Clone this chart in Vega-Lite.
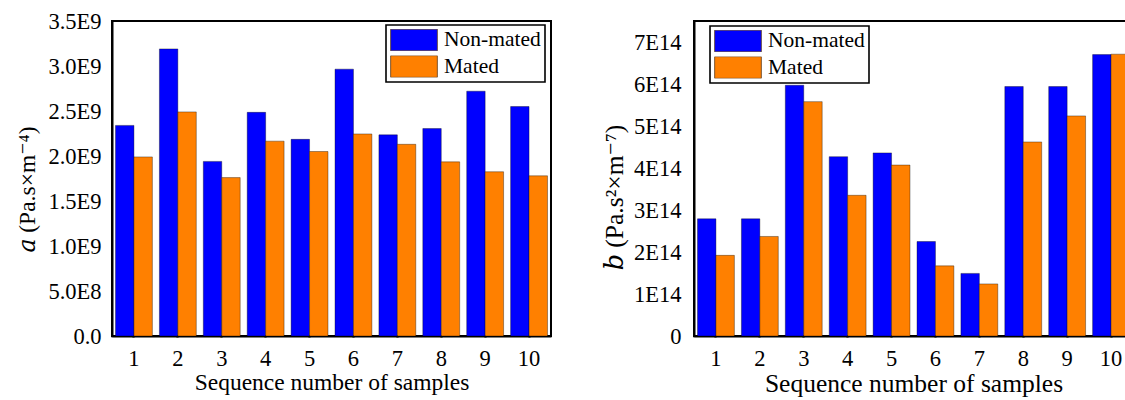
{
  "$schema": "https://vega.github.io/schema/vega-lite/v6.json",
  "background": "white",
  "padding": {"left": 14, "top": 9, "right": 0, "bottom": 0},
  "config": {
    "font": "Liberation Serif",
    "view": {"stroke": "black", "strokeWidth": 2},
    "axis": {
      "grid": false,
      "ticks": true,
      "zindex": 2,
      "domainColor": "black",
      "domainWidth": 2,
      "tickColor": "black",
      "tickOpacity": 1,
      "tickWidth": 2.2,
      "tickSize": 1,
      "labelColor": "black",
      "titleColor": "black",
      "labelFont": "Liberation Serif",
      "titleFont": "Liberation Serif, DejaVu Serif, serif",
      "titleFontWeight": "normal",
      "labelFontSize": 22.5,
      "titleFontSize": 23.5
    },
    "legend": {
      "title": null,
      "orient": "none",
      "symbolType": "M-1,-0.465H1V0.465H-1Z",
      "symbolSize": 2181,
      "symbolStrokeColor": "#5a3a1a",
      "symbolStrokeWidth": 0.8,
      "symbolOpacity": 1,
      "clipHeight": 22,
      "labelFont": "Liberation Serif",
      "labelFontSize": 21.5,
      "labelColor": "black",
      "labelOffset": 6,
      "rowPadding": 4.5,
      "padding": 4,
      "strokeColor": "black",
      "strokeWidth": 1.6,
      "fillColor": "white"
    }
  },
  "datasets": {
    "samples": [
      {"sample": 1, "group": "Non-mated", "a": 2340000000, "b": 279000000000000},
      {"sample": 1, "group": "Mated", "a": 1990000000, "b": 192000000000000},
      {"sample": 2, "group": "Non-mated", "a": 3190000000, "b": 279000000000000},
      {"sample": 2, "group": "Mated", "a": 2490000000, "b": 237000000000000},
      {"sample": 3, "group": "Non-mated", "a": 1940000000, "b": 597000000000000},
      {"sample": 3, "group": "Mated", "a": 1760000000, "b": 558000000000000},
      {"sample": 4, "group": "Non-mated", "a": 2485000000, "b": 427000000000000},
      {"sample": 4, "group": "Mated", "a": 2165000000, "b": 335000000000000},
      {"sample": 5, "group": "Non-mated", "a": 2185000000, "b": 436000000000000},
      {"sample": 5, "group": "Mated", "a": 2050000000, "b": 407000000000000},
      {"sample": 6, "group": "Non-mated", "a": 2965000000, "b": 225000000000000},
      {"sample": 6, "group": "Mated", "a": 2245000000, "b": 167000000000000},
      {"sample": 7, "group": "Non-mated", "a": 2235000000, "b": 149000000000000},
      {"sample": 7, "group": "Mated", "a": 2130000000, "b": 124000000000000},
      {"sample": 8, "group": "Non-mated", "a": 2305000000, "b": 594000000000000},
      {"sample": 8, "group": "Mated", "a": 1935000000, "b": 462000000000000},
      {"sample": 9, "group": "Non-mated", "a": 2720000000, "b": 594000000000000},
      {"sample": 9, "group": "Mated", "a": 1825000000, "b": 524000000000000},
      {"sample": 10, "group": "Non-mated", "a": 2550000000, "b": 670000000000000},
      {"sample": 10, "group": "Mated", "a": 1780000000, "b": 671000000000000}
    ]
  },
  "bounds": "flush",
  "spacing": 143,
  "resolve": {
    "scale": {"x": "independent", "y": "independent", "color": "independent", "xOffset": "independent"},
    "legend": {"color": "independent"}
  },
  "hconcat": [
    {
      "width": 439,
      "height": 315,
      "data": {"name": "samples"},
      "mark": {"type": "bar", "stroke": "black", "strokeOpacity": 0.45, "strokeWidth": 0.8},
      "encoding": {
        "x": {
          "field": "sample",
          "type": "ordinal",
          "scale": {"paddingInner": 0.16, "paddingOuter": 0.08},
          "axis": {
            "title": "Sequence number of samples",
            "labelAngle": 0,
            "labelPadding": 10,
            "titlePadding": 1,
            "encode": {"ticks": {"update": {"y2": {"value": -9}}}}
          }
        },
        "xOffset": {
          "field": "group",
          "type": "nominal",
          "scale": {"domain": ["Non-mated", "Mated"], "paddingInner": 0, "paddingOuter": 0}
        },
        "y": {
          "field": "a",
          "type": "quantitative",
          "scale": {"domain": [0, 3500000000], "nice": false, "zero": true},
          "axis": {
            "title": "𝑎 (Pa.s×m⁻⁴)",
            "titleY": 168,
            "values": [0, 250000000, 500000000, 750000000, 1000000000, 1250000000, 1500000000, 1750000000, 2000000000, 2250000000, 2500000000, 2750000000, 3000000000, 3250000000, 3500000000],
            "labelExpr": "datum.value % 500000000 !== 0 ? '' : datum.value === 0 ? '0.0' : datum.value < 1000000000 ? '5.0E8' : format(datum.value / 1000000000, '.1f') + 'E9'",
            "labelPadding": 10,
            "titlePadding": 8,
            "encode": {"ticks": {"update": {"x2": {"signal": "datum.value % 500000000 !== 0 ? 5 : 9"}}}}
          }
        },
        "color": {
          "field": "group",
          "type": "nominal",
          "scale": {"domain": ["Non-mated", "Mated"], "range": ["#0000FF", "#FF8000"]},
          "legend": {"legendX": 274, "legendY": 4}
        }
      }
    },
    {
      "width": 439,
      "height": 315,
      "data": {"name": "samples"},
      "mark": {"type": "bar", "stroke": "black", "strokeOpacity": 0.45, "strokeWidth": 0.8},
      "encoding": {
        "x": {
          "field": "sample",
          "type": "ordinal",
          "scale": {"paddingInner": 0.16, "paddingOuter": 0.08},
          "axis": {
            "title": "Sequence number of samples",
            "titleFontSize": 25.5,
            "labelAngle": 0,
            "labelPadding": 10,
            "titlePadding": 2,
            "encode": {"ticks": {"update": {"y2": {"value": -9}}}}
          }
        },
        "xOffset": {
          "field": "group",
          "type": "nominal",
          "scale": {"domain": ["Non-mated", "Mated"], "paddingInner": 0, "paddingOuter": 0}
        },
        "y": {
          "field": "b",
          "type": "quantitative",
          "scale": {"domain": [0, 750000000000000], "nice": false, "zero": true},
          "axis": {
            "title": "𝑏 (Pa.s²×m⁻⁷)",
            "titleFontSize": 25.5,
            "titleY": 176,
            "values": [0, 50000000000000, 100000000000000, 150000000000000, 200000000000000, 250000000000000, 300000000000000, 350000000000000, 400000000000000, 450000000000000, 500000000000000, 550000000000000, 600000000000000, 650000000000000, 700000000000000],
            "labelExpr": "datum.value % 100000000000000 !== 0 ? '' : datum.value === 0 ? '0' : format(datum.value / 100000000000000, 'd') + 'E14'",
            "labelPadding": 12,
            "titlePadding": 6,
            "encode": {"ticks": {"update": {"x2": {"signal": "datum.value % 100000000000000 !== 0 ? 5 : 9"}}}}
          }
        },
        "color": {
          "field": "group",
          "type": "nominal",
          "scale": {"domain": ["Non-mated", "Mated"], "range": ["#0000FF", "#FF8000"]},
          "legend": {"legendX": 16, "legendY": 5}
        }
      }
    }
  ]
}
